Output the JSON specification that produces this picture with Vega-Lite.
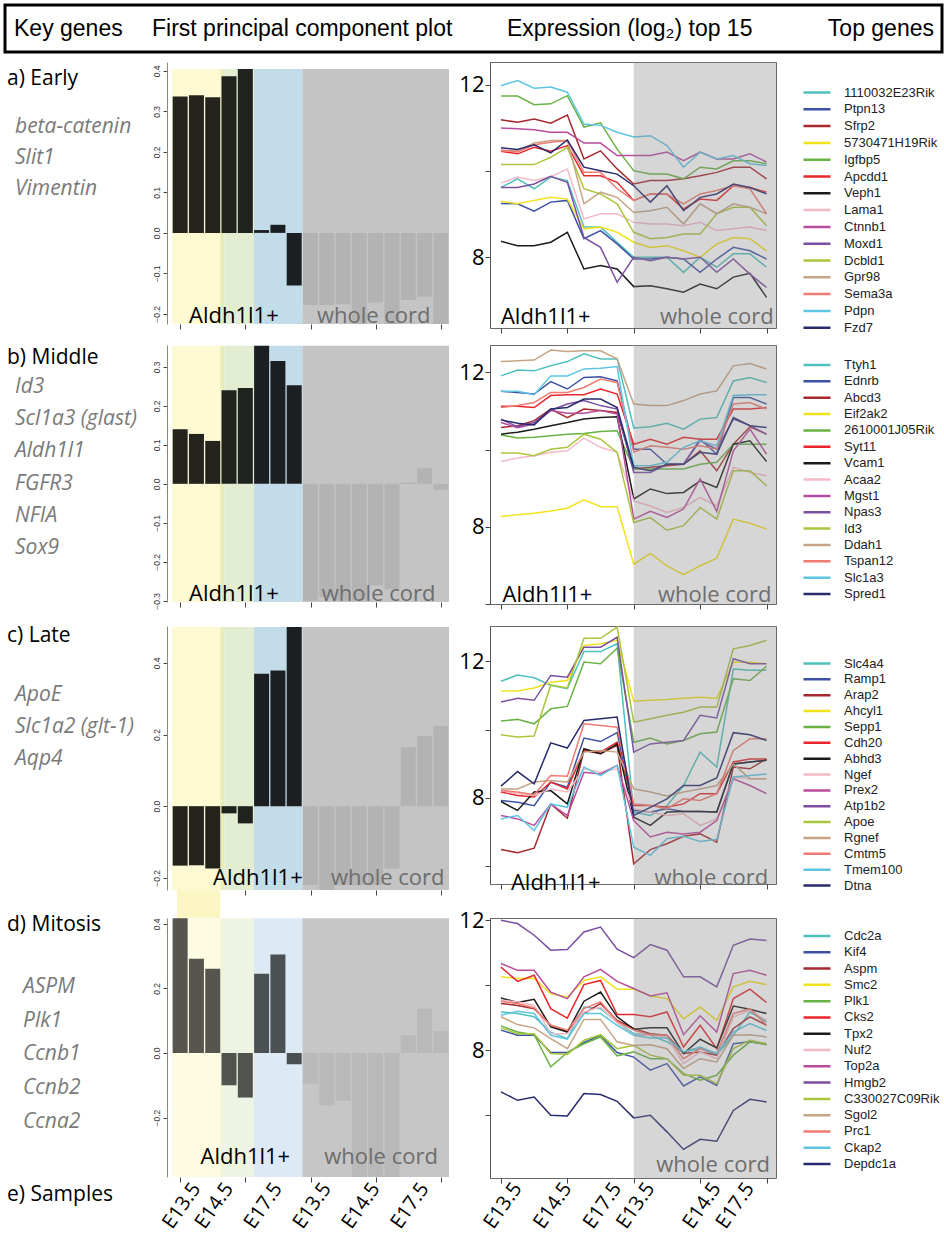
{
"$schema":"https://vega.github.io/schema/vega-lite/v6.json",
"padding":{"left":3,"top":3,"right":0,"bottom":0},
"background":"white",
"config":{"view":{"stroke":null},"axis":{"grid":false,"labelFont":"Liberation Sans","domainColor":"#555","tickColor":"#444"},
"legend":{"orient":"none","symbolType":"stroke","symbolSize":729,"symbolStrokeWidth":2.5,"labelFont":"Liberation Sans","labelFontSize":13,"labelColor":"#222","rowPadding":2,"labelOffset":12,"padding":0,"direction":"vertical","clipHeight":10}},
"datasets":{
"one":[{}],
"sbar":[{"i":1,"lab":"E13.5"},{"i":3,"lab":"E14.5"},{"i":6,"lab":"E17.5"},{"i":9,"lab":"E13.5"},{"i":12,"lab":"E14.5"},{"i":15,"lab":"E17.5"}],
"sline":[{"i":1,"lab":"E13.5"},{"i":4,"lab":"E14.5"},{"i":7,"lab":"E17.5"},{"i":9,"lab":"E13.5"},{"i":13,"lab":"E14.5"},{"i":15,"lab":"E17.5"}],
"bands":[{"b":"y","from":-0.5,"to":2.47},{"b":"s","from":2.47,"to":2.71},{"b":"g","from":2.71,"to":4.53},{"b":"bl","from":4.53,"to":7.5},{"b":"w","from":7.5,"to":16.5}],
"ba":[{"src":"A","i":[0,1,2,3,4,5,6,7],"v":[0.337,0.34,0.335,0.387,0.405,0.007,0.02,-0.13]},{"src":"W","i":[8,9,10,11,12,13,14,15,16],"v":[-0.178,-0.178,-0.176,-0.23,-0.172,-0.23,-0.166,-0.158,-0.23]}],
"bb":[{"src":"A","i":[0,1,2,3,4,5,6,7],"v":[0.14,0.128,0.11,0.24,0.246,0.354,0.315,0.253]},{"src":"W","i":[8,9,10,11,12,13,14,15,16],"v":[-0.3,-0.29,-0.3,-0.3,-0.26,-0.27,0.003,0.04,-0.015]}],
"bc":[{"src":"A","i":[0,1,2,3,4,5,6,7],"v":[-0.166,-0.165,-0.174,-0.02,-0.048,0.37,0.379,0.5]},{"src":"W","i":[8,9,10,11,12,13,14,15,16],"v":[-0.22,-0.234,-0.22,-0.22,-0.22,-0.174,0.165,0.196,0.224]}],
"bd":[{"src":"A","i":[0,1,2,3,4,5,6,7],"v":[0.417,0.292,0.261,-0.1,-0.138,0.245,0.305,-0.035]},{"src":"W","i":[8,9,10,11,12,13,14,15,16],"v":[-0.095,-0.162,-0.148,-0.384,-0.384,-0.384,0.055,0.137,0.068]}],
"la":[
{"g":"1110032E23Rik","i":[0,1,2,3,4,5,6,7,8,9,10,11,12,13,14,15,16],"v":[9.62,9.82,9.59,9.86,9.78,8.7,8.7,8.35,8.0,8.0,8.0,7.65,8.0,7.77,8.08,8.08,7.77]},
{"g":"Ptpn13","i":[0,1,2,3,4,5,6,7,8,9,10,11,12,13,14,15,16],"v":[9.25,9.24,9.07,9.28,9.32,8.43,8.62,8.31,7.96,7.96,8.0,7.96,7.65,7.96,8.23,8.15,7.96]},
{"g":"Sfrp2","i":[0,1,2,3,4,5,6,7,8,9,10,11,12,13,14,15,16],"v":[11.19,11.13,11.21,11.11,11.3,10.28,10.47,10.05,9.7,9.78,9.78,9.82,9.89,9.97,10.09,10.09,9.82]},
{"g":"5730471H19Rik","i":[0,1,2,3,4,5,6,7,8,9,10,11,12,13,14,15,16],"v":[9.3,9.24,9.32,9.39,9.35,8.66,8.7,8.58,8.35,8.23,8.27,8.15,8.0,8.31,8.46,8.43,8.15]},
{"g":"Igfbp5","i":[0,1,2,3,4,5,6,7,8,9,10,11,12,13,14,15,16],"v":[11.74,11.74,11.54,11.56,11.75,11.02,11.12,10.51,10.01,9.93,9.93,9.82,10.09,10.05,10.24,10.24,10.17]},
{"g":"Apcdd1","i":[0,1,2,3,4,5,6,7,8,9,10,11,12,13,14,15,16],"v":[10.46,10.4,10.55,10.46,10.59,9.89,9.89,9.74,9.32,9.47,9.47,9.12,9.35,9.32,9.66,9.62,9.51]},
{"g":"Veph1","i":[0,1,2,3,4,5,6,7,8,9,10,11,12,13,14,15,16],"v":[8.37,8.27,8.27,8.35,8.58,7.73,7.81,7.73,7.32,7.34,7.27,7.19,7.38,7.27,7.54,7.63,7.07]},
{"g":"Lama1","i":[0,1,2,3,4,5,6,7,8,9,10,11,12,13,14,15,16],"v":[9.72,9.86,9.78,9.87,10.05,8.89,9.01,9.01,8.81,8.77,8.77,8.73,8.81,8.62,8.66,8.7,8.62]},
{"g":"Ctnnb1","i":[0,1,2,3,4,5,6,7,8,9,10,11,12,13,14,15,16],"v":[11.0,10.98,10.96,10.9,10.9,10.65,10.65,10.36,10.36,10.36,10.44,10.24,10.44,10.28,10.28,10.4,10.21]},
{"g":"Moxd1","i":[0,1,2,3,4,5,6,7,8,9,10,11,12,13,14,15,16],"v":[9.62,9.62,9.7,9.88,9.74,8.46,8.23,7.42,8.0,7.92,8.0,7.96,8.0,7.65,7.96,7.61,7.3]},
{"g":"Dcbld1","i":[0,1,2,3,4,5,6,7,8,9,10,11,12,13,14,15,16],"v":[10.15,10.15,10.15,10.32,10.55,9.59,9.47,9.24,8.58,8.43,8.46,8.54,8.54,9.01,9.16,9.16,8.73]},
{"g":"Gpr98","i":[0,1,2,3,4,5,6,7,8,9,10,11,12,13,14,15,16],"v":[10.47,10.47,10.65,10.71,10.71,9.24,9.51,9.39,9.04,9.08,9.16,8.77,9.24,9.01,9.24,9.16,9.01]},
{"g":"Sema3a","i":[0,1,2,3,4,5,6,7,8,9,10,11,12,13,14,15,16],"v":[10.49,10.44,10.61,10.67,10.71,9.97,9.97,9.59,9.32,9.47,9.47,9.24,9.47,9.55,9.66,9.59,9.01]},
{"g":"Pdpn","i":[0,1,2,3,4,5,6,7,8,9,10,11,12,13,14,15,16],"v":[11.98,12.1,11.92,11.95,11.83,11.09,11.06,10.9,10.79,10.82,10.59,10.09,10.44,10.28,10.36,10.17,10.13]},
{"g":"Fzd7","i":[0,1,2,3,4,5,6,7,8,9,10,11,12,13,14,15,16],"v":[10.54,10.5,10.61,10.42,10.72,10.09,10.01,9.93,9.66,9.28,9.66,9.08,9.39,9.47,9.7,9.62,9.47]}],
"lb":[
{"g":"Ttyh1","i":[0,1,2,3,4,5,6,7,8,9,10,11,12,13,14,15,16],"v":[11.91,12.06,12.04,12.17,12.28,12.48,12.35,12.35,10.56,10.59,10.68,10.53,10.79,10.83,11.78,11.87,11.74]},
{"g":"Ednrb","i":[0,1,2,3,4,5,6,7,8,9,10,11,12,13,14,15,16],"v":[11.51,11.48,11.44,11.76,11.57,11.87,11.89,11.78,10.01,10.01,9.62,9.62,10.27,9.88,11.35,11.35,11.18]},
{"g":"Abcd3","i":[0,1,2,3,4,5,6,7,8,9,10,11,12,13,14,15,16],"v":[10.57,10.62,10.75,11.05,10.83,11.05,11.01,10.96,9.5,9.54,9.58,9.62,9.97,9.45,10.14,10.59,10.4]},
{"g":"Eif2ak2","i":[0,1,2,3,4,5,6,7,8,9,10,11,12,13,14,15,16],"v":[8.27,8.31,8.35,8.41,8.48,8.7,8.52,8.52,7.03,7.31,6.99,6.76,6.99,7.19,8.2,8.09,7.94]},
{"g":"2610001J05Rik","i":[0,1,2,3,4,5,6,7,8,9,10,11,12,13,14,15,16],"v":[10.38,10.3,10.32,10.36,10.4,10.42,10.47,10.49,9.5,9.5,9.5,9.5,9.62,9.67,10.14,10.14,10.14]},
{"g":"Syt11","i":[0,1,2,3,4,5,6,7,8,9,10,11,12,13,14,15,16],"v":[11.12,11.12,11.09,11.4,11.42,11.42,11.57,11.44,10.14,10.27,10.14,10.32,10.27,10.27,11.05,11.05,11.09]},
{"g":"Vcam1","i":[0,1,2,3,4,5,6,7,8,9,10,11,12,13,14,15,16],"v":[10.4,10.45,10.53,10.62,10.7,10.79,10.83,10.85,8.72,8.98,8.86,8.89,9.19,9.02,10.14,10.23,9.69]},
{"g":"Acaa2","i":[0,1,2,3,4,5,6,7,8,9,10,11,12,13,14,15,16],"v":[9.69,9.78,9.84,9.93,9.97,10.3,10.06,9.93,8.67,8.54,8.37,8.5,8.76,8.54,9.54,9.41,9.32]},
{"g":"Mgst1","i":[0,1,2,3,4,5,6,7,8,9,10,11,12,13,14,15,16],"v":[10.7,10.57,10.66,11.01,10.94,10.94,11.01,10.92,8.2,8.4,8.24,8.46,9.24,8.4,9.97,10.53,9.88]},
{"g":"Npas3","i":[0,1,2,3,4,5,6,7,8,9,10,11,12,13,14,15,16],"v":[10.79,10.59,10.7,11.02,11.18,11.27,11.14,11.05,9.41,9.41,9.62,9.62,10.23,10.01,10.79,10.62,10.4]},
{"g":"Id3","i":[0,1,2,3,4,5,6,7,8,9,10,11,12,13,14,15,16],"v":[9.91,9.91,9.84,10.01,10.06,10.4,10.27,9.93,8.11,8.24,7.91,8.03,8.5,8.2,9.45,9.45,9.06]},
{"g":"Ddah1","i":[0,1,2,3,4,5,6,7,8,9,10,11,12,13,14,15,16],"v":[12.28,12.3,12.32,12.58,12.54,12.56,12.56,12.35,11.18,11.14,11.14,11.27,11.44,11.52,12.17,12.23,12.09]},
{"g":"Tspan12","i":[0,1,2,3,4,5,6,7,8,9,10,11,12,13,14,15,16],"v":[11.09,11.14,11.22,11.48,11.48,11.61,11.83,11.74,9.93,10.1,10.06,10.01,10.1,10.01,11.18,11.22,11.05]},
{"g":"Slc1a3","i":[0,1,2,3,4,5,6,7,8,9,10,11,12,13,14,15,16],"v":[11.51,11.51,11.42,11.91,11.91,12.09,12.11,12.15,9.58,9.58,9.67,10.06,10.23,10.1,11.4,11.42,11.42]},
{"g":"Spred1","i":[0,1,2,3,4,5,6,7,8,9,10,11,12,13,14,15,16],"v":[10.77,10.68,10.64,11.05,11.09,11.31,11.31,11.09,9.54,9.45,9.62,9.62,9.93,9.88,10.83,10.62,10.57]}],
"lc":[
{"g":"Slc4a4","i":[0,1,2,3,4,5,6,7,8,9,10,11,12,13,14,15,16],"v":[11.42,11.6,11.52,11.3,11.2,12.29,12.29,12.52,7.58,7.48,7.77,8.36,9.34,8.9,11.78,11.74,11.74]},
{"g":"Ramp1","i":[0,1,2,3,4,5,6,7,8,9,10,11,12,13,14,15,16],"v":[7.92,7.87,7.77,8.46,8.31,9.75,9.65,9.91,7.63,7.58,7.68,7.6,7.6,7.58,8.99,9.05,9.1]},
{"g":"Arap2","i":[0,1,2,3,4,5,6,7,8,9,10,11,12,13,14,15,16],"v":[6.48,6.39,6.52,7.82,7.4,9.39,9.29,9.54,6.06,6.48,6.65,6.87,6.94,6.7,8.9,8.85,9.14]},
{"g":"Ahcyl1","i":[0,1,2,3,4,5,6,7,8,9,10,11,12,13,14,15,16],"v":[11.13,11.13,11.22,11.39,11.44,12.47,12.52,12.62,10.83,10.86,10.88,10.92,10.95,10.92,11.98,11.98,11.93]},
{"g":"Sepp1","i":[0,1,2,3,4,5,6,7,8,9,10,11,12,13,14,15,16],"v":[10.25,10.3,10.17,10.61,10.68,11.98,11.93,12.39,9.63,9.75,9.58,9.68,9.88,9.93,11.49,11.44,11.86]},
{"g":"Cdh20","i":[0,1,2,3,4,5,6,7,8,9,10,11,12,13,14,15,16],"v":[8.17,8.07,8.02,8.46,8.26,9.39,9.34,9.63,7.77,7.77,7.72,7.82,8.12,8.12,9.05,9.14,9.14]},
{"g":"Abhd3","i":[0,1,2,3,4,5,6,7,8,9,10,11,12,13,14,15,16],"v":[7.89,7.63,8.17,8.21,7.82,9.44,9.29,9.58,7.43,7.19,7.58,7.6,7.6,7.58,8.99,9.05,9.1]},
{"g":"Ngef","i":[0,1,2,3,4,5,6,7,8,9,10,11,12,13,14,15,16],"v":[8.21,8.12,8.07,8.26,8.17,8.85,8.75,8.85,7.68,7.58,7.48,7.53,7.19,7.38,8.61,8.56,8.56]},
{"g":"Prex2","i":[0,1,2,3,4,5,6,7,8,9,10,11,12,13,14,15,16],"v":[7.48,7.38,7.19,7.82,7.48,8.75,8.7,8.95,7.33,6.85,6.99,6.94,6.99,7.33,8.56,8.36,8.12]},
{"g":"Atp1b2","i":[0,1,2,3,4,5,6,7,8,9,10,11,12,13,14,15,16],"v":[10.81,10.92,10.86,11.59,11.54,12.42,12.42,12.71,9.34,9.58,9.63,9.68,10.42,10.34,12.08,11.93,11.93]},
{"g":"Apoe","i":[0,1,2,3,4,5,6,7,8,9,10,11,12,13,14,15,16],"v":[9.85,9.78,9.81,11.31,11.22,12.68,12.68,13.01,10.22,10.32,10.42,10.51,10.66,10.66,12.37,12.47,12.62]},
{"g":"Rgnef","i":[0,1,2,3,4,5,6,7,8,9,10,11,12,13,14,15,16],"v":[8.26,8.26,8.46,8.51,8.46,9.34,9.39,9.34,8.26,8.17,8.05,8.17,8.26,8.36,8.99,8.56,8.56]},
{"g":"Cmtm5","i":[0,1,2,3,4,5,6,7,8,9,10,11,12,13,14,15,16],"v":[8.21,8.17,8.09,8.65,8.63,10.17,10.12,10.07,7.82,7.77,7.68,7.97,7.92,8.12,9.39,9.73,9.73]},
{"g":"Tmem100","i":[0,1,2,3,4,5,6,7,8,9,10,11,12,13,14,15,16],"v":[7.38,7.48,7.04,7.82,7.72,8.9,8.65,8.95,6.55,6.31,6.8,6.87,6.72,6.78,8.61,8.65,8.7]},
{"g":"Dtna","i":[0,1,2,3,4,5,6,7,8,9,10,11,12,13,14,15,16],"v":[8.34,8.77,8.41,9.61,9.46,10.27,10.32,10.37,7.48,7.72,7.97,8.36,8.36,8.58,9.91,9.85,9.68]}],
"ld":[
{"g":"Cdc2a","i":[0,1,2,3,4,5,6,7,8,9,10,11,12,13,14,15,16],"v":[9.18,9.13,9.03,8.56,8.36,9.33,9.28,8.87,8.51,8.46,8.26,7.95,8.05,7.85,8.46,9.18,8.87]},
{"g":"Kif4","i":[0,1,2,3,4,5,6,7,8,9,10,11,12,13,14,15,16],"v":[8.62,8.46,8.46,7.93,7.93,8.24,8.46,7.93,7.79,7.39,7.59,6.9,7.18,6.92,8.2,8.26,8.2]},
{"g":"Aspm","i":[0,1,2,3,4,5,6,7,8,9,10,11,12,13,14,15,16],"v":[9.44,9.38,9.28,8.77,8.58,9.13,9.44,8.92,8.67,8.51,8.46,7.9,7.95,7.85,8.67,9.03,8.77]},
{"g":"Smc2","i":[0,1,2,3,4,5,6,7,8,9,10,11,12,13,14,15,16],"v":[10.26,10.21,10.21,9.74,9.64,10.15,10.26,9.88,9.88,9.67,9.59,8.97,9.33,8.92,9.95,10.12,10.02]},
{"g":"Plk1","i":[0,1,2,3,4,5,6,7,8,9,10,11,12,13,14,15,16],"v":[8.75,8.56,8.48,7.49,7.93,8.2,8.41,7.83,7.95,7.74,7.74,7.28,7.08,7.23,7.85,8.26,8.17]},
{"g":"Cks2","i":[0,1,2,3,4,5,6,7,8,9,10,11,12,13,14,15,16],"v":[10.56,10.12,10.31,9.28,8.99,10.02,10.15,9.1,9.1,9.03,9.18,8.1,8.77,8.05,9.59,9.88,9.47]},
{"g":"Tpx2","i":[0,1,2,3,4,5,6,7,8,9,10,11,12,13,14,15,16],"v":[9.61,9.47,9.57,8.72,8.56,9.51,9.79,9.03,8.65,8.69,8.69,7.9,8.34,8.07,9.36,9.26,9.13]},
{"g":"Nuf2","i":[0,1,2,3,4,5,6,7,8,9,10,11,12,13,14,15,16],"v":[9.54,9.49,9.38,8.51,8.51,9.18,9.33,8.85,8.46,8.46,8.41,7.59,7.95,7.74,9.03,9.23,8.92]},
{"g":"Top2a","i":[0,1,2,3,4,5,6,7,8,9,10,11,12,13,14,15,16],"v":[10.67,10.46,10.46,9.79,9.59,10.26,10.49,10.12,9.9,9.67,9.77,8.48,9.06,8.56,10.36,10.46,10.31]},
{"g":"Hmgb2","i":[0,1,2,3,4,5,6,7,8,9,10,11,12,13,14,15,16],"v":[12.0,11.9,11.54,11.08,11.1,11.64,11.79,11.11,10.85,11.25,11.08,10.26,10.26,9.95,11.23,11.42,11.38]},
{"g":"C330027C09Rik","i":[0,1,2,3,4,5,6,7,8,9,10,11,12,13,14,15,16],"v":[8.69,8.51,8.51,7.9,7.87,8.31,8.48,8.05,8.15,7.85,7.74,7.23,7.23,6.97,8.05,8.31,8.2]},
{"g":"Sgol2","i":[0,1,2,3,4,5,6,7,8,9,10,11,12,13,14,15,16],"v":[9.03,8.79,8.69,8.36,8.05,8.95,8.95,8.26,8.15,8.17,8.05,7.44,7.74,7.64,8.46,8.48,8.41]},
{"g":"Prc1","i":[0,1,2,3,4,5,6,7,8,9,10,11,12,13,14,15,16],"v":[9.51,9.44,9.3,8.77,8.62,9.28,9.49,8.89,8.62,8.48,8.46,7.74,8.05,7.9,9.13,9.28,8.77]},
{"g":"Ckap2","i":[0,1,2,3,4,5,6,7,8,9,10,11,12,13,14,15,16],"v":[9.08,9.2,9.13,8.46,8.34,9.13,9.13,8.77,8.46,8.38,8.38,7.95,8.1,7.9,8.56,8.82,8.61]},
{"g":"Depdc1a","i":[0,1,2,3,4,5,6,7,8,9,10,11,12,13,14,15,16],"v":[6.72,6.46,6.56,6.0,5.98,6.67,6.64,6.43,5.92,6.0,5.49,4.95,5.26,5.2,6.15,6.49,6.41]}]
},
"vconcat":[
{"width":937,"height":47,"view":{"stroke":"#000","strokeWidth":3},"data":{"name":"one"},
"layer":[
{"mark":{"type":"text","text":"Key genes","align":"left","baseline":"middle","font":"Liberation Sans","fontSize":23,"color":"#000"},"encoding":{"x":{"datum":9,"scale":{"domain":[0,937],"nice":false,"zero":false},"axis":null}}},
{"mark":{"type":"text","text":"First principal component plot","align":"left","baseline":"middle","font":"Liberation Sans","fontSize":23,"color":"#000"},"encoding":{"x":{"datum":147}}},
{"mark":{"type":"text","text":"Expression (log₂) top 15","align":"left","baseline":"middle","font":"Liberation Sans","fontSize":23,"color":"#000"},"encoding":{"x":{"datum":502}}},
{"mark":{"type":"text","text":"Top genes","align":"right","baseline":"middle","font":"Liberation Sans","fontSize":23,"color":"#000"},"encoding":{"x":{"datum":929}}}
]},
{"concat":[
{"width":126,"height":273,"layer":[
{"data":{"name":"one"},"mark":{"type":"text","text":"a) Early","align":"left","baseline":"middle","font":"Open Sans","fontSize":21,"color":"#000","dx":2},"encoding":{"x":{"datum":0,"scale":{"domain":[0,1]},"axis":null},"y":{"datum":-0.548,"scale":{"domain":[-1.097,7.71],"reverse":true,"nice":false,"zero":false},"axis":null}}},
{"data":{"values":[{"k":1,"t":"beta-catenin"},{"k":2,"t":"Slit1"},{"k":3,"t":"Vimentin"}]},"mark":{"type":"text","align":"left","baseline":"middle","font":"Open Sans","fontSize":21,"fontStyle":"italic","color":"#7a7a7a","dx":10},"encoding":{"x":{"datum":0},"y":{"field":"k","type":"quantitative","scale":{"domain":[-1.097,7.71],"reverse":true,"nice":false,"zero":false}},"text":{"field":"t"}}}]},
{"width":287,"height":262,"layer":[
{"data":{"name":"bands"},"mark":{"type":"rect"},"encoding":{"x":{"field":"from","type":"quantitative","title":null,"scale":{"domain":[-0.5,16.5],"nice":false,"zero":false},"axis":{"values":[0,1,2,3,4,5,6,7,8,9,10,11,12,13,14,15,16],"labels":false,"domain":false,"tickSize":5,"title":null}},"x2":{"field":"to"},"y":{"datum":-0.225,"title":null,"scale":{"domain":[-0.225,0.422],"nice":false,"zero":false},"axis":{"values":[-0.2,-0.1,0,0.1,0.2,0.3,0.4],"format":".1f","labelAngle":-90,"labelAlign":"center","labelBaseline":"bottom","labelFontSize":8.5,"labelColor":"#333","tickSize":4,"labelPadding":2,"domainColor":"#8a8a70","title":null}},"y2":{"datum":0.405},"color":{"field":"b","type":"nominal","scale":{"domain":["y","s","g","bl","w"],"range":["#fdf9d3","#e6edb6","#e2edd2","#c3dcea","#c4c4c4"]},"legend":null}}},
{"data":{"name":"ba"},"transform":[{"flatten":["i","v"]}],"mark":{"type":"bar","size":15,"clip":true},"encoding":{"x":{"field":"i","type":"quantitative","title":null},"y":{"field":"v","type":"quantitative","title":null},"color":{"condition":{"test":"datum.src=='A'","value":"#000"},"value":"#b3b3b3"},"opacity":{"condition":{"test":"datum.src=='A'","value":0.86},"value":1}}},
{"data":{"name":"one"},"mark":{"type":"text","text":"Aldh1l1+","align":"center","baseline":"alphabetic","font":"Open Sans","fontSize":22,"color":"#000"},"encoding":{"x":{"datum":3.3},"y":{"datum":-0.222}}},
{"data":{"name":"one"},"mark":{"type":"text","text":"whole cord","align":"center","baseline":"alphabetic","font":"Open Sans","fontSize":22,"color":"#6d6d6d"},"encoding":{"x":{"datum":11.88},"y":{"datum":-0.222}}}]},
{"width":286,"height":266,"view":{"stroke":"#6a6a6a"},"layer":[
{"data":{"name":"la"},"transform":[{"flatten":["i","v"]}],"mark":{"type":"line","strokeWidth":1.5,"clip":true},"encoding":{"x":{"field":"i","type":"quantitative","title":null,"scale":{"domain":[-0.66,16.57],"nice":false,"zero":false},"axis":{"values":[0,1,2,3,4,5,6,7,8,9,10,11,12,13,14,15,16],"labels":false,"domain":false,"tickSize":5,"title":null}},"y":{"field":"v","type":"quantitative","title":null,"scale":{"domain":[6.36,12.53],"nice":false,"zero":false},"axis":{"values":[8,10,12],"labelExpr":"datum.value==12||datum.value==8?datum.label:''","tickSize":5,"labelFont":"Open Sans","labelFontSize":22,"labelColor":"#000","labelPadding":1,"title":null}},"color":{"field":"g","type":"nominal","scale":{"domain":["1110032E23Rik","Ptpn13","Sfrp2","5730471H19Rik","Igfbp5","Apcdd1","Veph1","Lama1","Ctnnb1","Moxd1","Dcbld1","Gpr98","Sema3a","Pdpn","Fzd7"],"range":["#4fc1bd","#3c51a6","#a6282e","#f2e21c","#69b244","#e8262b","#1b1b1b","#f5b9c6","#b94b9e","#7b4fa1","#a9c63c","#c7a485","#ef7b72","#5ec5e3","#272a6d"]},"legend":{"title":null,"legendX":312,"legendY":25.5,"rowPadding":3.8}}}},
{"data":{"name":"one"},"mark":{"type":"rect","color":"#8a8a8a","opacity":0.35},"encoding":{"x":{"datum":8},"x2":{"datum":16.57},"y":{"datum":6.36},"y2":{"datum":12.53}}},
{"data":{"name":"one"},"mark":{"type":"text","text":"Aldh1l1+","align":"left","baseline":"alphabetic","font":"Open Sans","fontSize":22,"color":"#000"},"encoding":{"x":{"datum":0},"y":{"datum":6.45}}},
{"data":{"name":"one"},"mark":{"type":"text","text":"whole cord","align":"right","baseline":"alphabetic","font":"Open Sans","fontSize":22,"color":"#6e6e6e"},"encoding":{"x":{"datum":16.43},"y":{"datum":6.45}}}]},

{"width":126,"height":271,"layer":[
{"data":{"name":"one"},"mark":{"type":"text","text":"b) Middle","align":"left","baseline":"middle","font":"Open Sans","fontSize":21,"color":"#000","dx":2},"encoding":{"x":{"datum":0,"scale":{"domain":[0,1]},"axis":null},"y":{"datum":0.099,"scale":{"domain":[-0.304,8.112],"reverse":true,"nice":false,"zero":false},"axis":null}}},
{"data":{"values":[{"k":1,"t":"Id3"},{"k":2,"t":"Scl1a3 (glast)"},{"k":3,"t":"Aldh1l1"},{"k":4,"t":"FGFR3"},{"k":5,"t":"NFIA"},{"k":6,"t":"Sox9"}]},"mark":{"type":"text","align":"left","baseline":"middle","font":"Open Sans","fontSize":21,"fontStyle":"italic","color":"#7a7a7a","dx":10},"encoding":{"x":{"datum":0},"y":{"field":"k","type":"quantitative","scale":{"domain":[-0.304,8.112],"reverse":true,"nice":false,"zero":false}},"text":{"field":"t"}}}]},
{"width":287,"height":257,"layer":[
{"data":{"name":"bands"},"mark":{"type":"rect"},"encoding":{"x":{"field":"from","type":"quantitative","title":null,"scale":{"domain":[-0.5,16.5],"nice":false,"zero":false},"axis":{"values":[0,1,2,3,4,5,6,7,8,9,10,11,12,13,14,15,16],"labels":false,"domain":false,"tickSize":5,"title":null}},"x2":{"field":"to"},"y":{"datum":-0.303,"title":null,"scale":{"domain":[-0.303,0.356],"nice":false,"zero":false},"axis":{"values":[-0.3,-0.2,-0.1,0,0.1,0.2,0.3],"format":".1f","labelAngle":-90,"labelAlign":"center","labelBaseline":"bottom","labelFontSize":8.5,"labelColor":"#333","tickSize":4,"labelPadding":2,"domainColor":"#8a8a70","title":null}},"y2":{"datum":0.354},"color":{"field":"b","type":"nominal","scale":{"domain":["y","s","g","bl","w"],"range":["#fdf9d3","#e6edb6","#e2edd2","#c3dcea","#c4c4c4"]},"legend":null}}},
{"data":{"name":"bb"},"transform":[{"flatten":["i","v"]}],"mark":{"type":"bar","size":15,"clip":true},"encoding":{"x":{"field":"i","type":"quantitative","title":null},"y":{"field":"v","type":"quantitative","title":null},"color":{"condition":{"test":"datum.src=='A'","value":"#000"},"value":"#b3b3b3"},"opacity":{"condition":{"test":"datum.src=='A'","value":0.86},"value":1}}},
{"data":{"name":"one"},"mark":{"type":"text","text":"Aldh1l1+","align":"center","baseline":"alphabetic","font":"Open Sans","fontSize":22,"color":"#000"},"encoding":{"x":{"datum":3.3},"y":{"datum":-0.3}}},
{"data":{"name":"one"},"mark":{"type":"text","text":"whole cord","align":"center","baseline":"alphabetic","font":"Open Sans","fontSize":22,"color":"#6d6d6d"},"encoding":{"x":{"datum":12.18},"y":{"datum":-0.3}}}]},
{"width":286,"height":259,"view":{"stroke":"#6a6a6a"},"layer":[
{"data":{"name":"lb"},"transform":[{"flatten":["i","v"]}],"mark":{"type":"line","strokeWidth":1.5,"clip":true},"encoding":{"x":{"field":"i","type":"quantitative","title":null,"scale":{"domain":[-0.66,16.57],"nice":false,"zero":false},"axis":{"values":[0,1,2,3,4,5,6,7,8,9,10,11,12,13,14,15,16],"labels":false,"domain":false,"tickSize":5,"title":null}},"y":{"field":"v","type":"quantitative","title":null,"scale":{"domain":[6.0,12.71],"nice":false,"zero":false},"axis":{"values":[6,8,10,12],"labelExpr":"datum.value==12||datum.value==8?datum.label:''","tickSize":5,"labelFont":"Open Sans","labelFontSize":22,"labelColor":"#000","labelPadding":1,"title":null}},"color":{"field":"g","type":"nominal","scale":{"domain":["Ttyh1","Ednrb","Abcd3","Eif2ak2","2610001J05Rik","Syt11","Vcam1","Acaa2","Mgst1","Npas3","Id3","Ddah1","Tspan12","Slc1a3","Spred1"],"range":["#4fc1bd","#3c51a6","#a6282e","#f2e21c","#69b244","#e8262b","#1b1b1b","#f5b9c6","#b94b9e","#7b4fa1","#a9c63c","#c7a485","#ef7b72","#5ec5e3","#272a6d"]},"legend":{"title":null,"legendX":312,"legendY":15,"rowPadding":3.36}}}},
{"data":{"name":"one"},"mark":{"type":"rect","color":"#8a8a8a","opacity":0.35},"encoding":{"x":{"datum":8},"x2":{"datum":16.57},"y":{"datum":6.0},"y2":{"datum":12.71}}},
{"data":{"name":"one"},"mark":{"type":"text","text":"Aldh1l1+","align":"left","baseline":"alphabetic","font":"Open Sans","fontSize":22,"color":"#000"},"encoding":{"x":{"datum":0.1},"y":{"datum":6.05}}},
{"data":{"name":"one"},"mark":{"type":"text","text":"whole cord","align":"right","baseline":"alphabetic","font":"Open Sans","fontSize":22,"color":"#6e6e6e"},"encoding":{"x":{"datum":16.3},"y":{"datum":6.05}}}]},

{"width":126,"height":282,"layer":[
{"data":{"name":"one"},"mark":{"type":"text","text":"c) Late","align":"left","baseline":"middle","font":"Open Sans","fontSize":21,"color":"#000","dx":2},"encoding":{"x":{"datum":0,"scale":{"domain":[0,1]},"axis":null},"y":{"datum":-0.844,"scale":{"domain":[-1.156,7.656],"reverse":true,"nice":false,"zero":false},"axis":null}}},
{"data":{"values":[{"k":1,"t":"ApoE"},{"k":2,"t":"Slc1a2 (glt-1)"},{"k":3,"t":"Aqp4"}]},"mark":{"type":"text","align":"left","baseline":"middle","font":"Open Sans","fontSize":21,"fontStyle":"italic","color":"#7a7a7a","dx":10},"encoding":{"x":{"datum":0},"y":{"field":"k","type":"quantitative","scale":{"domain":[-1.156,7.656],"reverse":true,"nice":false,"zero":false}},"text":{"field":"t"}}}]},
{"width":287,"height":264,"layer":[
{"data":{"name":"bands"},"mark":{"type":"rect"},"encoding":{"x":{"field":"from","type":"quantitative","title":null,"scale":{"domain":[-0.5,16.5],"nice":false,"zero":false},"axis":{"values":[0,1,2,3,4,5,6,7,8,9,10,11,12,13,14,15,16],"labels":false,"domain":false,"tickSize":5,"title":null}},"x2":{"field":"to"},"y":{"datum":-0.234,"title":null,"scale":{"domain":[-0.234,0.503],"nice":false,"zero":false},"axis":{"values":[-0.2,-0.1,0,0.1,0.2,0.3,0.4,0.5],"format":".1f","labelAngle":-90,"labelAlign":"center","labelBaseline":"bottom","labelFontSize":8.5,"labelColor":"#333","tickSize":4,"labelPadding":2,"domainColor":"#8a8a70","title":null}},"y2":{"datum":0.5},"color":{"field":"b","type":"nominal","scale":{"domain":["y","s","g","bl","w"],"range":["#fdf9d3","#e6edb6","#e2edd2","#c3dcea","#c4c4c4"]},"legend":null}}},
{"data":{"name":"bc"},"transform":[{"flatten":["i","v"]}],"mark":{"type":"bar","size":15,"clip":true},"encoding":{"x":{"field":"i","type":"quantitative","title":null},"y":{"field":"v","type":"quantitative","title":null},"color":{"condition":{"test":"datum.src=='A'","value":"#000"},"value":"#b3b3b3"},"opacity":{"condition":{"test":"datum.src=='A'","value":0.86},"value":1}}},
{"data":{"name":"one"},"mark":{"type":"text","text":"Aldh1l1+","align":"center","baseline":"alphabetic","font":"Open Sans","fontSize":22,"color":"#000"},"encoding":{"x":{"datum":4.77},"y":{"datum":-0.22}}},
{"data":{"name":"one"},"mark":{"type":"text","text":"whole cord","align":"center","baseline":"alphabetic","font":"Open Sans","fontSize":22,"color":"#6d6d6d"},"encoding":{"x":{"datum":12.74},"y":{"datum":-0.22}}}]},
{"width":286,"height":258,"view":{"stroke":"#6a6a6a"},"layer":[
{"data":{"name":"lc"},"transform":[{"flatten":["i","v"]}],"mark":{"type":"line","strokeWidth":1.5,"clip":true},"encoding":{"x":{"field":"i","type":"quantitative","title":null,"scale":{"domain":[-0.66,16.57],"nice":false,"zero":false},"axis":{"values":[0,1,2,3,4,5,6,7,8,9,10,11,12,13,14,15,16],"labels":false,"domain":false,"tickSize":5,"title":null}},"y":{"field":"v","type":"quantitative","title":null,"scale":{"domain":[5.47,13.04],"nice":false,"zero":false},"axis":{"values":[6,8,10,12],"labelExpr":"datum.value==12||datum.value==8?datum.label:''","tickSize":5,"labelFont":"Open Sans","labelFontSize":22,"labelColor":"#000","labelPadding":1,"title":null}},"color":{"field":"g","type":"nominal","scale":{"domain":["Slc4a4","Ramp1","Arap2","Ahcyl1","Sepp1","Cdh20","Abhd3","Ngef","Prex2","Atp1b2","Apoe","Rgnef","Cmtm5","Tmem100","Dtna"],"range":["#4fc1bd","#3c51a6","#a6282e","#f2e21c","#69b244","#e8262b","#1b1b1b","#f5b9c6","#b94b9e","#7b4fa1","#a9c63c","#c7a485","#ef7b72","#5ec5e3","#272a6d"]},"legend":{"title":null,"legendX":312,"legendY":32.5,"rowPadding":2.86}}}},
{"data":{"name":"one"},"mark":{"type":"rect","color":"#8a8a8a","opacity":0.35},"encoding":{"x":{"datum":8},"x2":{"datum":16.57},"y":{"datum":5.47},"y2":{"datum":13.04}}},
{"data":{"name":"one"},"mark":{"type":"text","text":"Aldh1l1+","align":"left","baseline":"alphabetic","font":"Open Sans","fontSize":22,"color":"#000"},"encoding":{"x":{"datum":0.6},"y":{"datum":5.29}}},
{"data":{"name":"one"},"mark":{"type":"text","text":"whole cord","align":"right","baseline":"alphabetic","font":"Open Sans","fontSize":22,"color":"#6e6e6e"},"encoding":{"x":{"datum":16.1},"y":{"datum":5.44}}}]},

{"width":126,"height":260,"layer":[
{"data":{"name":"one"},"mark":{"type":"text","text":"d) Mitosis","align":"left","baseline":"middle","font":"Open Sans","fontSize":21,"color":"#000","dx":2},"encoding":{"x":{"datum":0,"scale":{"domain":[0,1]},"axis":null},"y":{"datum":-0.837,"scale":{"domain":[-1.044,6.659],"reverse":true,"nice":false,"zero":false},"axis":null}}},
{"data":{"values":[{"k":1,"t":"ASPM"},{"k":2,"t":"Plk1"},{"k":3,"t":"Ccnb1"},{"k":4,"t":"Ccnb2"},{"k":5,"t":"Ccna2"}]},"mark":{"type":"text","align":"left","baseline":"middle","font":"Open Sans","fontSize":21,"fontStyle":"italic","color":"#7a7a7a","dx":18},"encoding":{"x":{"datum":0},"y":{"field":"k","type":"quantitative","scale":{"domain":[-1.044,6.659],"reverse":true,"nice":false,"zero":false}},"text":{"field":"t"}}}]},
{"width":287,"height":259,"layer":[
{"data":{"name":"bands"},"mark":{"type":"rect"},"encoding":{"x":{"field":"from","type":"quantitative","title":null,"scale":{"domain":[-0.5,16.5],"nice":false,"zero":false},"axis":{"values":[0,1,2,3,4,5,6,7,8,9,10,11,12,13,14,15,16],"labels":false,"domain":false,"tickSize":5,"title":null}},"x2":{"field":"to"},"y":{"datum":-0.384,"title":null,"scale":{"domain":[-0.384,0.418],"nice":false,"zero":false},"axis":{"values":[-0.2,0,0.2,0.4],"format":".1f","labelAngle":-90,"labelAlign":"center","labelBaseline":"bottom","labelFontSize":8.5,"labelColor":"#333","tickSize":4,"labelPadding":2,"domainColor":"#8a8a70","title":null}},"y2":{"datum":0.417},"color":{"field":"b","type":"nominal","scale":{"domain":["y","s","g","bl","w"],"range":["#fefbe3","#f0f4da","#eef4e3","#dde9f4","#c6c6c6"]},"legend":null}}},
{"data":{"name":"one"},"mark":{"type":"rect","color":"#fcf5c4"},"encoding":{"x":{"datum":-0.2},"x2":{"datum":2.47},"y":{"datum":0.418},"y2":{"datum":0.504}}},
{"data":{"name":"bd"},"transform":[{"flatten":["i","v"]}],"mark":{"type":"bar","size":15,"clip":true},"encoding":{"x":{"field":"i","type":"quantitative","title":null},"y":{"field":"v","type":"quantitative","title":null},"color":{"condition":{"test":"datum.src=='A'","value":"#000"},"value":"#b9b9b9"},"opacity":{"condition":{"test":"datum.src=='A'","value":0.66},"value":1}}},
{"data":{"name":"one"},"mark":{"type":"text","text":"Aldh1l1+","align":"center","baseline":"alphabetic","font":"Open Sans","fontSize":22,"color":"#000"},"encoding":{"x":{"datum":4.0},"y":{"datum":-0.345}}},
{"data":{"name":"one"},"mark":{"type":"text","text":"whole cord","align":"center","baseline":"alphabetic","font":"Open Sans","fontSize":22,"color":"#6d6d6d"},"encoding":{"x":{"datum":12.33},"y":{"datum":-0.345}}},
{"data":{"name":"sbar"},"mark":{"type":"text","angle":-55,"align":"right","baseline":"middle","font":"Open Sans","fontSize":20,"color":"#000"},"encoding":{"x":{"field":"i","type":"quantitative"},"y":{"datum":-0.409},"text":{"field":"lab"}}}]},
{"width":286,"height":260,"view":{"stroke":"#6a6a6a"},"layer":[
{"data":{"name":"ld"},"transform":[{"flatten":["i","v"]}],"mark":{"type":"line","strokeWidth":1.5,"clip":true},"encoding":{"x":{"field":"i","type":"quantitative","title":null,"scale":{"domain":[-0.66,16.57],"nice":false,"zero":false},"axis":{"values":[0,1,2,3,4,5,6,7,8,9,10,11,12,13,14,15,16],"labels":false,"domain":false,"tickSize":5,"title":null}},"y":{"field":"v","type":"quantitative","title":null,"scale":{"domain":[4.07,12.07],"nice":false,"zero":false},"axis":{"values":[6,8,10,12],"labelExpr":"datum.value==12||datum.value==8?datum.label:''","tickSize":5,"labelFont":"Open Sans","labelFontSize":22,"labelColor":"#000","labelPadding":1,"title":null}},"color":{"field":"g","type":"nominal","scale":{"domain":["Cdc2a","Kif4","Aspm","Smc2","Plk1","Cks2","Tpx2","Nuf2","Top2a","Hmgb2","C330027C09Rik","Sgol2","Prc1","Ckap2","Depdc1a"],"range":["#4fc1bd","#3c51a6","#a6282e","#f2e21c","#69b244","#e8262b","#1b1b1b","#f5b9c6","#b94b9e","#7b4fa1","#a9c63c","#c7a485","#ef7b72","#5ec5e3","#272a6d"]},"legend":{"title":null,"legendX":312,"legendY":13,"rowPadding":3.29}}}},
{"data":{"name":"one"},"mark":{"type":"rect","color":"#8a8a8a","opacity":0.35},"encoding":{"x":{"datum":8},"x2":{"datum":16.57},"y":{"datum":4.07},"y2":{"datum":12.07}}},
{"data":{"name":"one"},"mark":{"type":"text","text":"whole cord","align":"right","baseline":"alphabetic","font":"Open Sans","fontSize":22,"color":"#6e6e6e"},"encoding":{"x":{"datum":16.2},"y":{"datum":4.27}}},
{"data":{"name":"sline"},"mark":{"type":"text","angle":-55,"align":"right","baseline":"middle","font":"Open Sans","fontSize":20,"color":"#000"},"encoding":{"x":{"field":"i","type":"quantitative"},"y":{"datum":3.855},"text":{"field":"lab"}}}]},

{"width":126,"height":14,"data":{"name":"one"},"mark":{"type":"text","text":"e) Samples","align":"left","baseline":"middle","font":"Open Sans","fontSize":21,"color":"#000","dx":2},"encoding":{"x":{"datum":0,"scale":{"domain":[0,1]},"axis":null},"y":{"datum":0.5,"scale":{"domain":[0,1]},"axis":null}}}
],
"columns":3,"spacing":{"row":10,"column":36},"align":"each","bounds":"flush",
"resolve":{"scale":{"x":"independent","y":"independent","color":"independent","opacity":"independent"},"axis":{"x":"independent","y":"independent"},"legend":{"color":"independent"}}}
],
"spacing":10,"bounds":"flush",
"resolve":{"scale":{"x":"independent","y":"independent","color":"independent","opacity":"independent"},"axis":{"x":"independent","y":"independent"},"legend":{"color":"independent"}}
}
